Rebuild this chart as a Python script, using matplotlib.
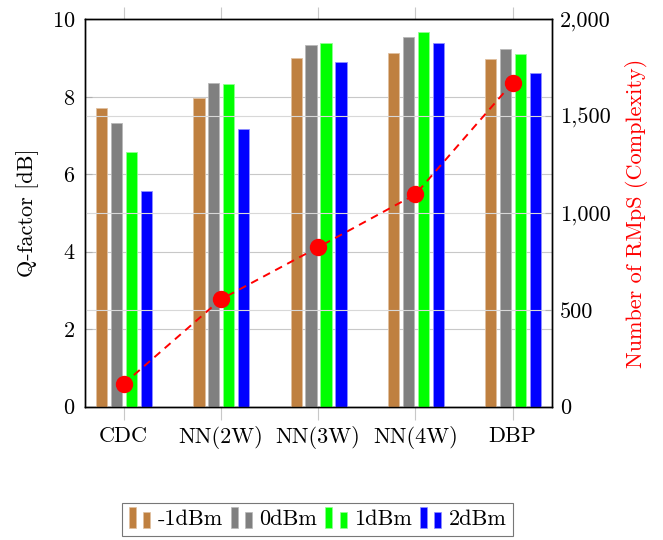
import matplotlib
matplotlib.use("Agg")
import matplotlib.pyplot as plt
import numpy as np
from matplotlib.patches import Rectangle
from matplotlib.legend_handler import HandlerBase
from matplotlib.ticker import FuncFormatter, MultipleLocator

plt.rcParams['font.family'] = ['cmr10', 'DejaVu Serif']
plt.rcParams['mathtext.fontset'] = 'cm'
plt.rcParams['axes.formatter.use_mathtext'] = True

categories = ["CDC", "NN(2W)", "NN(3W)", "NN(4W)", "DBP"]
series_names = ["-1dBm", "0dBm", "1dBm", "2dBm"]
q_m1 = [7.71, 7.98, 9.01, 9.14, 8.97]
q_0 = [7.31, 8.36, 9.33, 9.54, 9.22]
q_1 = [6.58, 8.33, 9.38, 9.67, 9.11]
q_2 = [5.57, 7.17, 8.91, 9.40, 8.62]
complexity = [117, 554, 823, 1096, 1673]

series = [q_m1, q_0, q_1, q_2]
colors = ["#BF8040", "#808080", "#00FF00", "#0000FF"]
edges = ["#E0C0A0", "#B8B8B8", "#90FF90", "#9090FF"]

FS = 16

fig = plt.figure(figsize=(6.63, 5.40), dpi=100)
ax = fig.add_axes([0.1277, 0.2469, 0.832 - 0.1277, 0.9643 - 0.2469])
ax2 = ax.twinx()

x = np.arange(len(categories))
spacing = 0.154
width = 0.116
handles = []
for i, (vals, c, ec) in enumerate(zip(series, colors, edges)):
    b = ax.bar(x + (i - 1.5) * spacing + 0.005, vals, width=width, color=c,
               edgecolor=ec, linewidth=0.6, zorder=3, label=series_names[i])
    handles.append(b)

ax.set_xlim(-0.4, 4.4)
ax.set_ylim(0, 10)
ax.yaxis.set_major_locator(MultipleLocator(2))
ax.set_xticks(x)
ax.set_xticklabels(categories, fontsize=FS)
ax.tick_params(axis='x', which='both', direction='out', length=9, width=0.8,
               color='#c8c8c8', pad=5, top=True)
ax.tick_params(axis='y', direction='in', length=5, color='#b0b0b0', labelsize=FS, pad=7)
ax.grid(axis='y', color='#c8c8c8', linewidth=0.8, zorder=0)
ax.set_axisbelow(True)
ax.set_ylabel("Q-factor [dB]", fontsize=FS, labelpad=9)

ax2.set_ylim(0, 2000)
ax2.yaxis.set_major_locator(MultipleLocator(500))
ax2.yaxis.set_major_formatter(FuncFormatter(lambda v, p: f"{int(v):,}"))
ax2.tick_params(axis='y', direction='in', length=5, color='#b0b0b0', labelsize=FS, pad=6)
ax2.grid(axis='y', color='#d8d8d8', linewidth=0.8, zorder=0)
ax2.plot(x, complexity, color='red', linestyle=(0, (4, 3)), linewidth=1.4,
         marker='o', markersize=11.5, zorder=5)
ax2.set_ylabel("Number of RMpS (Complexity)", fontsize=FS, color='red', labelpad=10)

for a in (ax, ax2):
    for s in a.spines.values():
        s.set_linewidth(1.0)
        s.set_color('black')


class TwoBarHandler(HandlerBase):
    def create_artists(self, legend, orig_handle, xdescent, ydescent, width, height, fontsize, trans):
        patch = orig_handle.patches[0]
        fc = patch.get_facecolor()
        ec = patch.get_edgecolor()
        w = width * 0.32
        y0 = -ydescent - 0.15 * height
        r1 = Rectangle((-xdescent, y0), w, height * 1.3,
                       facecolor=fc, edgecolor=ec, linewidth=0.5, transform=trans)
        r2 = Rectangle((-xdescent + 0.66 * width, y0), w, height * 0.97,
                       facecolor=fc, edgecolor=ec, linewidth=0.5, transform=trans)
        return [r1, r2]


leg = fig.legend(handles, series_names, loc='upper center', bbox_to_anchor=(0.479, 0.0685),
                 ncol=4, fontsize=FS, frameon=True, fancybox=False, edgecolor='#555555',
                 handler_map={h: TwoBarHandler() for h in handles},
                 handlelength=1.0, handletextpad=0.3, columnspacing=0.35, borderpad=0.3,
                 borderaxespad=0)
leg.get_frame().set_linewidth(0.8)

fig.savefig("out.png", dpi=100)
